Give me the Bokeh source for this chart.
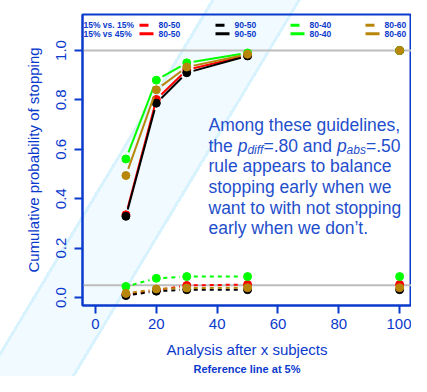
import math
from bokeh.plotting import figure
from bokeh.models import Range1d, FixedTicker, Span, Label, Title
from bokeh.embed import file_html
from bokeh.resources import INLINE

# ---------------- data ----------------
analysis_n = [10, 20, 30, 50, 100]
rule_labels = ["80-50", "90-50", "80-40", "80-60"]
rule_colors = ["#ff0000", "#000000", "#00ff00", "#b8860b"]

# 15% vs 45% (solid lines)
alt_red = [0.335, 0.802, 0.922, 0.980, 1.000]
alt_black = [0.329, 0.787, 0.910, 0.978, 1.000]
alt_green = [0.561, 0.880, 0.950, 0.990, 1.000]
alt_gold = [0.494, 0.841, 0.933, 0.985, 1.000]

# 15% vs 15% (dashed lines)
null_red = [0.012, 0.030, 0.049, 0.053, 0.053]
null_black = [0.008, 0.026, 0.032, 0.032, 0.032]
null_green = [0.045, 0.078, 0.085, 0.085, 0.085]
null_gold = [0.017, 0.035, 0.039, 0.040, 0.040]

alt_series = [alt_red, alt_black, alt_green, alt_gold]
null_series = [null_red, null_black, null_green, null_gold]
n_connected = 4  # the 100-subject analysis is not joined by a line

x_ticks = [0, 20, 40, 60, 80, 100]
x_tick_labels = ["0", "20", "40", "60", "80", "100"]
y_ticks = [0.0, 0.2, 0.4, 0.6, 0.8, 1.0]
y_tick_labels = ["0.0", "0.2", "0.4", "0.6", "0.8", "1.0"]
ref_levels = [1.0, 0.05]
row_headers = ["15% vs. 15%", "15% vs 45%"]

note_lines = ["Among these guidelines,", None, "rule appears to balance",
              "stopping early when we", "want to with not stopping",
              "early when we don\u2019t."]

# ---------------- layout / style ----------------
W, H = 411, 376
BL, BT, BR, BB = 82, 14, 0, 71
FW, FH = W - BL - BR, H - BT - BB
X0, X1 = -4.28, 103.9
Y0, Y1 = -0.032, 1.1457
SX = FW / (X1 - X0)
SY = FH / (Y1 - Y0)
BLUE = "#0a3acc"
TXT = "#1f4fcc"
FONT = "Liberation Sans"


def px2x(px):
    return X0 + px / SX


def py2y(py):
    return Y1 - py / SY


band = ("linear-gradient(121deg, rgba(255,255,255,0) 0px, rgba(255,255,255,0) 181px, "
        "#d9f3fe 181px, #d9f3fe 184px, #f0faff 184px, #f0faff 255px, "
        "#d9f3fe 255px, #d9f3fe 258px, rgba(255,255,255,0) 258px)")

p = figure(width=W, height=H, output_backend="svg", toolbar_location=None,
           x_range=Range1d(X0, X1), y_range=Range1d(Y0, Y1),
           min_border_left=BL, min_border_right=BR, min_border_top=BT,
           min_border_bottom=BB, background_fill_color=None,
           border_fill_color=None, outline_line_color=BLUE,
           outline_line_width=2)
p.styles = {"background": band}
p.grid.visible = False

for ax in (p.xaxis[0], p.yaxis[0]):
    ax.axis_line_color = BLUE
    ax.axis_line_width = 2
    ax.major_tick_line_color = BLUE
    ax.major_tick_line_width = 2
    ax.major_tick_out = 8
    ax.major_tick_in = 0
    ax.minor_tick_out = 0
    ax.minor_tick_in = 0
    ax.major_label_text_color = BLUE
    ax.major_label_text_font = FONT
    ax.major_label_text_font_size = "15px"
    ax.axis_label_text_color = BLUE
    ax.axis_label_text_font = FONT
    ax.axis_label_text_font_size = "15px"
    ax.axis_label_text_font_style = "normal"

p.xaxis.ticker = FixedTicker(ticks=x_ticks)
p.xaxis.major_label_overrides = dict(zip(x_ticks, x_tick_labels))
p.xaxis.major_label_standoff = 5
p.xaxis.axis_label = "Analysis after x subjects"
p.xaxis.axis_label_standoff = 9

p.yaxis.ticker = FixedTicker(ticks=y_ticks)
p.yaxis.major_label_overrides = dict(zip(y_ticks, y_tick_labels))
p.yaxis.major_label_orientation = "vertical"
p.yaxis.major_label_standoff = 8
p.yaxis.axis_label = "Cumulative probability of stopping"
p.yaxis.axis_label_standoff = 12

p.add_layout(Title(text="Reference line at 5%", align="center",
                   text_font=FONT, text_font_size="11px",
                   text_font_style="bold", text_color=BLUE, standoff=0),
             "below")

for lv in ref_levels:
    p.add_layout(Span(location=lv, dimension="width", line_color="#bdbdbd",
                      line_width=2, level="underlay"))


def gapped_segments(xs, ys, gap=7.0):
    x0s, y0s, x1s, y1s = [], [], [], []
    for i in range(len(xs) - 1):
        dxp = (xs[i + 1] - xs[i]) * SX
        dyp = (ys[i + 1] - ys[i]) * SY
        L = math.hypot(dxp, dyp)
        if L <= 2 * gap:
            continue
        f = gap / L
        ddx = xs[i + 1] - xs[i]
        ddy = ys[i + 1] - ys[i]
        x0s.append(xs[i] + f * ddx)
        y0s.append(ys[i] + f * ddy)
        x1s.append(xs[i + 1] - f * ddx)
        y1s.append(ys[i + 1] - f * ddy)
    return x0s, y0s, x1s, y1s


for series, dash in ((null_series, "4 4"), (alt_series, "solid")):
    for ys, col in zip(series, rule_colors):
        a, b, c, d = gapped_segments(analysis_n[:n_connected], ys[:n_connected])
        p.segment(a, b, c, d, line_color=col, line_width=2, line_dash=dash)
        p.scatter(analysis_n, ys, size=8, color=col)

# ---------------- legend (top row inside frame) ----------------
row_py = [10.7, 19.3]
col_px = [57, 133, 208, 283]
for r, hdr in enumerate(row_headers):
    yy = py2y(row_py[r])
    p.add_layout(Label(x=px2x(1), y=yy, text=hdr, text_font=FONT,
                       text_font_size="8.5px", text_font_style="bold",
                       text_color=BLUE, text_baseline="middle"))
    for c0, lab, col in zip(col_px, rule_labels, rule_colors):
        if r == 0:
            p.segment([px2x(c0)], [yy], [px2x(c0 + 14)], [yy], line_color=col,
                      line_width=3, line_dash="9 5")
        else:
            p.segment([px2x(c0)], [yy], [px2x(c0 + 14)], [yy], line_color=col,
                      line_width=3)
        p.add_layout(Label(x=px2x(c0 + 19), y=yy, text=lab, text_font=FONT,
                           text_font_size="8.5px", text_font_style="bold",
                           text_color=BLUE, text_baseline="middle"))

# ---------------- note ----------------
AW = {"t": 278, "h": 556, "e": 556, " ": 278, "p": 556, "=": 584, ".": 278,
      "8": 556, "0": 556, "a": 556, "n": 556, "d": 556, "b": 556, "s": 500,
      "i": 222, "f": 278, "5": 556}


def tw(s, size):
    return sum(AW[ch] for ch in s) * size / 1000.0


FS, SS = 17.5, 12.0
note_px = 126
base0, lstep = 110.3, 20.7
for i, line in enumerate(note_lines):
    by = py2y(base0 + i * lstep)
    if line is not None:
        p.add_layout(Label(x=px2x(note_px), y=by, text=line, text_font=FONT,
                           text_font_size=f"{FS}px", text_color=TXT,
                           text_baseline="alphabetic"))
    else:
        pieces = [("the ", FS, "normal", 0), ("p", FS, "italic", 0),
                  ("diff", SS, "italic", 4.5), ("=.80 and ", FS, "normal", 0),
                  ("p", FS, "italic", 0), ("abs", SS, "italic", 4.5),
                  ("=.50", FS, "normal", 0)]
        cx = note_px
        for txt, sz, st, dy in pieces:
            p.add_layout(Label(x=px2x(cx), y=py2y(base0 + i * lstep + dy),
                               text=txt, text_font=FONT,
                               text_font_size=f"{sz}px", text_font_style=st,
                               text_color=TXT, text_baseline="alphabetic"))
            cx += tw(txt, sz)

open("out.html", "w").write(file_html(p, INLINE))
